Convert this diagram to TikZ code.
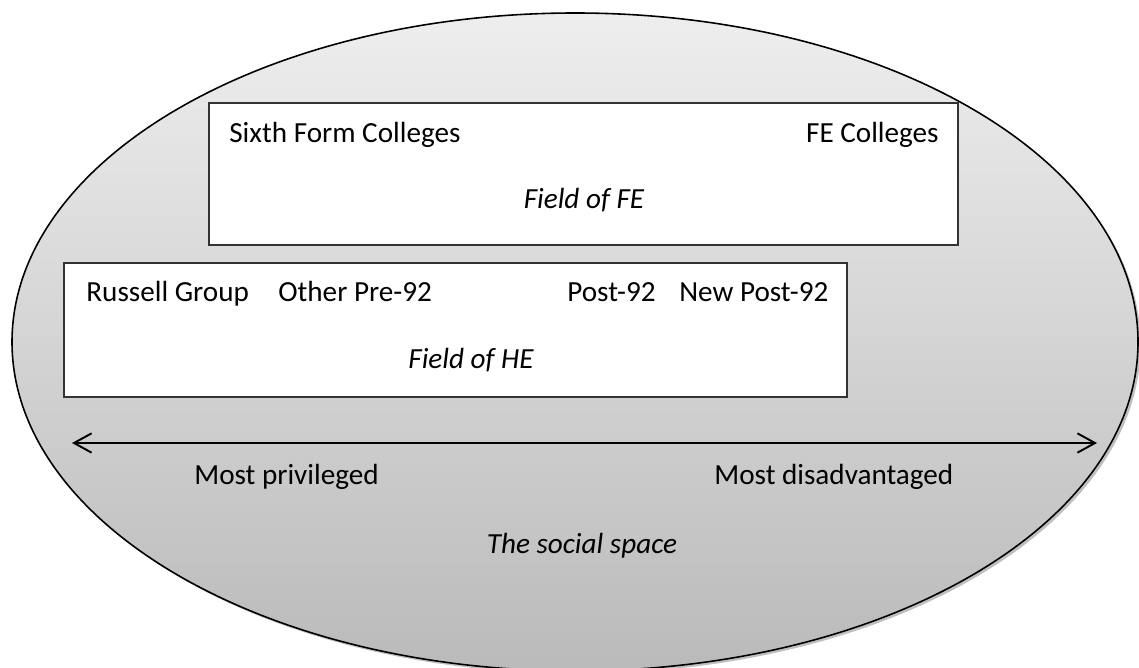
\documentclass[tikz,border=0pt]{standalone}
\usepackage{fontspec}
\setmainfont{Carlito}
\usetikzlibrary{arrows.meta,shadows}
\definecolor{spacetop}{RGB}{238,238,238}
\definecolor{spacebot}{RGB}{186,186,186}
\begin{document}
\begin{tikzpicture}[x=0.02cm,y=0.02cm,
  every node/.style={inner sep=0pt,font=\fontsize{16.6}{20}\selectfont},
  lbl/.style={anchor=base west},
  fieldbox/.style={draw=black!80,fill=white,line width=0.6pt},
  barb/.tip={Straight Barb[length=10pt,width=11pt]}]
\clip (0,0) rectangle (1139,-668);
% the social space
\draw [black,line width=0.9pt,top color=spacetop,bottom color=spacebot,
  drop shadow={shadow xshift=1.5pt,shadow yshift=-1.5pt,opacity=0.5}] (575,-342) ellipse (563 and 329);
% the two fields
\draw [fieldbox] (209,-103) rectangle (958,-245);
\draw [fieldbox] (64,-263) rectangle (847,-397);
\node [lbl] (sixth) at (229,-143) {Sixth Form Colleges};
\node [anchor=base east] (fecoll) at (939,-143) {FE Colleges};
\node [anchor=base] (fieldfe) at (584,-209) {\itshape Field of FE};
\node [lbl] (russell) at (86,-302) {Russell Group};
\node [lbl] (prenn) at (278,-302) {Other Pre-92};
\node [lbl] (postnn) at (567,-302) {Post-92};
\node [lbl] (newpost) at (679,-302) {New Post-92};
\node [anchor=base] (fieldhe) at (471,-369) {\itshape Field of HE};
% privilege axis
\coordinate (privend) at (72,-443);
\coordinate (disadvend) at (1097,-443);
\draw [barb-barb,line width=1.1pt] (privend) -- (disadvend);
\node [lbl] (priv) at (194,-484) {Most privileged};
\node [lbl] (disadv) at (714,-484) {Most disadvantaged};
\node [anchor=base] (social) at (582,-553) {\itshape The social space};
\end{tikzpicture}
\end{document}
